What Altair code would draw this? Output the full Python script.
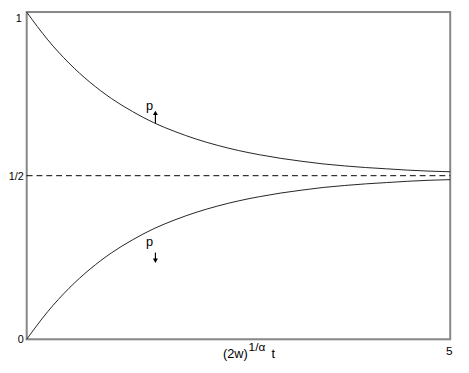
import altair as alt
import pandas as pd

# values
xs = [0, 0.25, 0.5, 0.75, 1.0, 1.25, 1.5, 1.75, 2.0, 2.25, 2.5, 2.75, 3.0,
      3.25, 3.5, 3.75, 4.0, 4.25, 4.5, 4.75, 5.0]
p_up = [1.0, 0.915, 0.844, 0.785, 0.736, 0.696, 0.662, 0.635, 0.612, 0.593,
        0.577, 0.564, 0.553, 0.544, 0.536, 0.530, 0.525, 0.521, 0.517, 0.514, 0.512]
p_down = [0.0, 0.085, 0.156, 0.215, 0.264, 0.304, 0.338, 0.365, 0.388, 0.407,
          0.423, 0.436, 0.447, 0.456, 0.464, 0.470, 0.475, 0.479, 0.483, 0.486, 0.488]
y_ticks = [0, 0.5, 1]
y_tick_labels = ["0", "1/2", "1"]
x_tick = 5

W, H = 431, 333

rows = [{"x": x, "p": v, "s": "up"} for x, v in zip(xs, p_up)] + \
       [{"x": x, "p": v, "s": "down"} for x, v in zip(xs, p_down)]
df = pd.DataFrame(rows)

xsc = alt.Scale(domain=[0, 5], nice=False, zero=False)
ysc = alt.Scale(domain=[0, 1], nice=False, zero=False)
X = lambda f="x": alt.X(f"{f}:Q", scale=xsc, axis=None)
Y = lambda f="p": alt.Y(f"{f}:Q", scale=ysc, axis=None)

FONT = "Liberation Sans"

frame = alt.Chart(pd.DataFrame({"x": [0], "x2": [5], "p": [0], "p2": [1]})).mark_rect(
    fill=None, stroke="#888888", strokeWidth=2).encode(x=X(), x2="x2:Q", y=Y(), y2="p2:Q")

curves = alt.Chart(df).mark_line(color="#222222", strokeWidth=1, interpolate="monotone").encode(
    x=X(), y=Y(), detail="s:N")

half = alt.Chart(pd.DataFrame({"x": [0], "x2": [5], "p": [0.5]})).mark_rule(
    color="black", strokeWidth=1, strokeDash=[6, 4]).encode(x=X(), x2="x2:Q", y=Y())

ylab = alt.Chart(pd.DataFrame({"p": y_ticks, "t": y_tick_labels})).transform_filter(
    "datum.p < 1").mark_text(align="right", baseline="middle", font=FONT, fontSize=11,
                             color="black", dy=1).encode(x=alt.value(-3), y=Y(), text="t:N")
ylab_top = alt.Chart(pd.DataFrame({"p": [1], "t": ["1"]})).mark_text(
    align="right", baseline="top", font=FONT, fontSize=11, color="black", dy=1).encode(
    x=alt.value(-5), y=Y(), text="t:N")

xlab = alt.Chart(pd.DataFrame({"x": [x_tick], "t": [str(x_tick)]})).mark_text(
    align="center", baseline="alphabetic", font=FONT, fontSize=12, color="black", dx=-1).encode(
    x=X(), y=alt.value(349), text="t:N")

title_main = alt.Chart(pd.DataFrame({"x": [2.61], "t": ["(2w)"]})).mark_text(
    align="right", baseline="alphabetic", font=FONT, fontSize=13, color="black").encode(
    x=X(), y=alt.value(352), text="t:N")
title_sup = alt.Chart(pd.DataFrame({"x": [2.62], "t": ["1/α"]})).mark_text(
    align="left", baseline="alphabetic", font=FONT, fontSize=12, color="black").encode(
    x=X(), y=alt.value(345), text="t:N")
title_t = alt.Chart(pd.DataFrame({"x": [2.89], "t": ["t"]})).mark_text(
    align="left", baseline="alphabetic", font=FONT, fontSize=13, color="black").encode(
    x=X(), y=alt.value(352), text="t:N")

ann = pd.DataFrame({"x": [1.45, 1.45], "p": [0.712, 0.298], "t": ["p", "p"]})
p_text = alt.Chart(ann).mark_text(font=FONT, fontSize=13, color="black",
                                  baseline="middle").encode(x=X(), y=Y(), text="t:N")

arrows = pd.DataFrame({"x": [1.52, 1.52], "p": [0.661, 0.265], "p2": [0.690, 0.245]})
arrow_shaft = alt.Chart(arrows).mark_rule(color="black", strokeWidth=1.2).encode(
    x=X(), y=Y(), y2="p2:Q")
heads = pd.DataFrame({"x": [1.52, 1.52], "p": [0.692, 0.240],
                      "shape": ["triangle-up", "triangle-down"]})
arrow_head = alt.Chart(heads).mark_point(filled=True, color="black", size=26, opacity=1).encode(
    x=X(), y=Y(), shape=alt.Shape("shape:N", scale=None, legend=None))

chart = alt.layer(frame, curves, half, ylab, ylab_top, xlab, title_main, title_sup, title_t,
                  p_text, arrow_shaft, arrow_head).properties(
    width=W, height=H,
    autosize=alt.AutoSizeParams(type="none"),
    padding={"left": 19, "top": 1, "right": 11, "bottom": 24},
).configure_view(stroke=None).configure(background="white")

chart.save("out.html", embed_options={"renderer": "svg", "actions": False})
